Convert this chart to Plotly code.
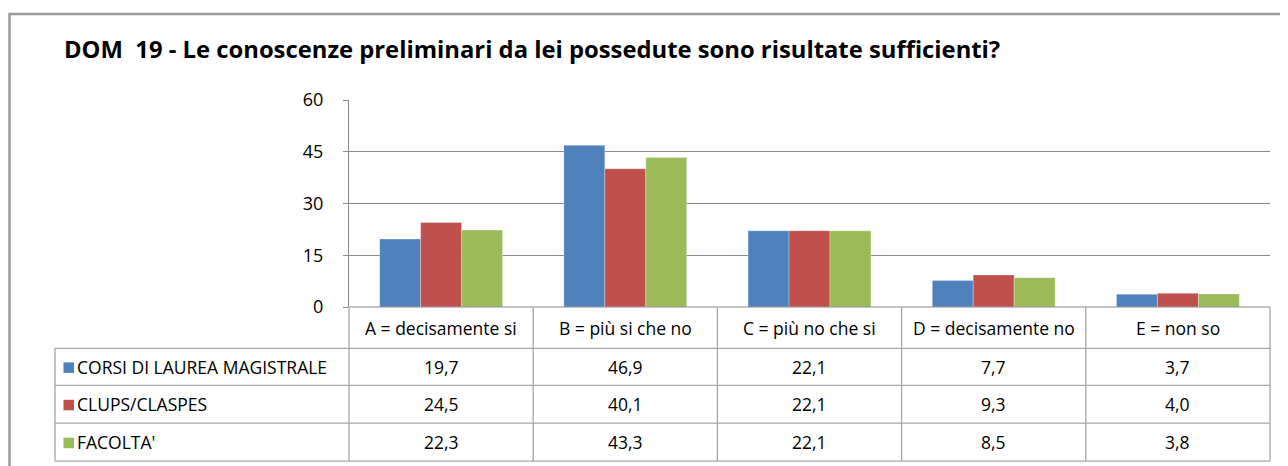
import plotly.graph_objects as go

categories = ["A = decisamente si", "B = più si che no", "C = più no che si",
              "D = decisamente no", "E = non so"]
series_names = ["CORSI DI LAUREA MAGISTRALE", "CLUPS/CLASPES", "FACOLTA'"]
corsi = [19.7, 46.9, 22.1, 7.7, 3.7]
clups = [24.5, 40.1, 22.1, 9.3, 4.0]
facolta = [22.3, 43.3, 22.1, 8.5, 3.8]
series_values = [corsi, clups, facolta]
colors = ["#4F81BD", "#C0504D", "#9BBB59"]
y_ticks = [0, 15, 30, 45, 60]
title = "DOM  19 - Le conoscenze preliminari da lei possedute sono risultate sufficienti?"

W, H = 1288, 466
OFF = 8  # page body margin
PX0, PX1 = 349 - OFF, 1270 - OFF
PY_TOP, PY0 = 100 - OFF, 306.7 - OFF
FONT = "'Open Sans', Lato, sans-serif"
GRID = "#8a8a8a"
TBL = "#a6a6a6"


def px(x):
    return (x - OFF - PX0) / (PX1 - PX0)


def py(y):
    return (PY0 - (y - OFF)) / (PY0 - PY_TOP)


fig = go.Figure()
for name, vals, col in zip(series_names, series_values, colors):
    fig.add_trace(go.Bar(x=categories, y=vals, name=name, marker_color=col,
                         marker_line=dict(color="rgba(255,255,255,0.5)", width=0.6)))

shapes = []
annotations = []

# outer frame
shapes.append(dict(type="rect", xref="paper", yref="paper",
                   x0=px(9.5), x1=px(1310), y0=py(14), y1=py(490),
                   line=dict(color="#9a9a9a", width=2.5), layer="below"))

# table geometry (reference pixel coords)
row_y = [306.7, 348, 385, 422.7, 460.7]
ncat = len(categories)
col_x = [349 + i * (1270 - 349) / ncat for i in range(ncat + 1)]
leg_x = 55

shapes.append(dict(type="line", xref="paper", yref="paper", x0=px(col_x[0]), x1=px(col_x[-1]),
                   y0=py(row_y[0]), y1=py(row_y[0]), line=dict(color=GRID, width=1)))
for yy in row_y[1:]:
    shapes.append(dict(type="line", xref="paper", yref="paper", x0=px(leg_x), x1=px(col_x[-1]),
                       y0=py(yy), y1=py(yy), line=dict(color=TBL, width=1.3)))
for xx in col_x:
    shapes.append(dict(type="line", xref="paper", yref="paper", x0=px(xx), x1=px(xx),
                       y0=py(row_y[0]), y1=py(row_y[-1]), line=dict(color=TBL, width=1.3)))
shapes.append(dict(type="line", xref="paper", yref="paper", x0=px(leg_x), x1=px(leg_x),
                   y0=py(row_y[1]), y1=py(row_y[-1]), line=dict(color=TBL, width=1.3)))

TS = 17.5
for i, c in enumerate(categories):
    annotations.append(dict(xref="paper", yref="paper", x=px((col_x[i] + col_x[i + 1]) / 2),
                            y=py((row_y[0] + row_y[1]) / 2), text=c, showarrow=False,
                            xanchor="center", yanchor="middle",
                            font=dict(family=FONT, size=TS, color="#000")))

for r, (name, vals, col) in enumerate(zip(series_names, series_values, colors)):
    yc = (row_y[r + 1] + row_y[r + 2]) / 2
    shapes.append(dict(type="rect", xref="paper", yref="paper", x0=px(63.5), x1=px(74),
                       y0=py(yc - 4.5), y1=py(yc + 6), fillcolor=col, line=dict(width=0)))
    annotations.append(dict(xref="paper", yref="paper", x=px(75), y=py(yc), text=name,
                            showarrow=False, xanchor="left", yanchor="middle",
                            font=dict(family=FONT, size=TS, color="#000")))
    for i, v in enumerate(vals):
        annotations.append(dict(xref="paper", yref="paper", x=px((col_x[i] + col_x[i + 1]) / 2),
                                y=py(yc), text=f"{v:.1f}".replace(".", ","), showarrow=False,
                                xanchor="center", yanchor="middle",
                                font=dict(family=FONT, size=TS, color="#000")))

annotations.append(dict(xref="paper", yref="paper", x=px(62), y=py(49), text=title,
                        showarrow=False, xanchor="left", yanchor="middle",
                        font=dict(family=FONT, size=23.8, color="#000", weight="bold")))

fig.update_layout(
    width=W, height=H, autosize=False,
    margin=dict(l=PX0, r=W - PX1, t=PY_TOP, b=H - PY0, pad=0),
    paper_bgcolor="white", plot_bgcolor="white",
    barmode="group", bargap=0.333, bargroupgap=0,
    showlegend=False,
    shapes=shapes, annotations=annotations,
    xaxis=dict(showticklabels=False, showgrid=False, zeroline=False, showline=False,
               ticks=""),
    yaxis=dict(range=[0, 60], tickvals=y_ticks, showgrid=True, gridcolor=GRID, gridwidth=1,
               zeroline=False, showline=True, linecolor=GRID, linewidth=1,
               ticks="outside", ticklen=5, tickcolor=GRID, ticklabelstandoff=16,
               tickfont=dict(family=FONT, size=18, color="#000")),
)

fig.write_html("out.html")
